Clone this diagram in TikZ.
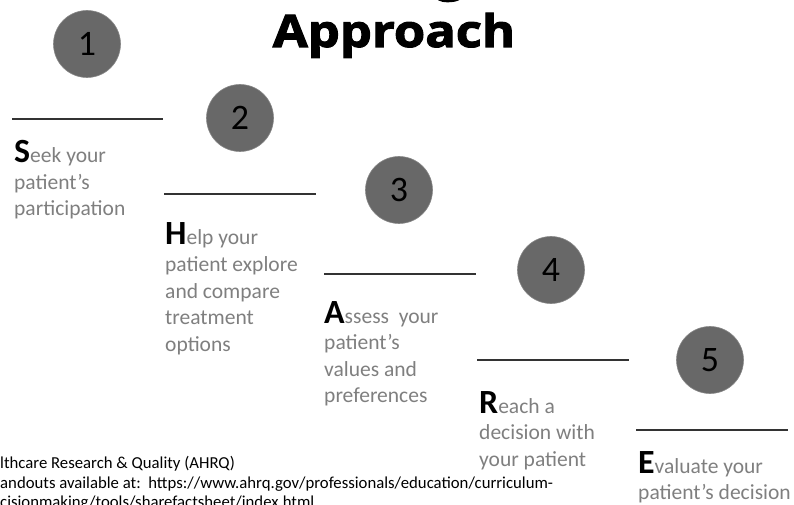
\documentclass[tikz,border=0pt]{standalone}
\usepackage{fontspec}
\setmainfont{Carlito}
\newfontfamily\headfont[FakeBold=2.4,FakeStretch=1.13]{Open Sans}
\usepackage{array}
\definecolor{stepgray}{HTML}{7F7F7F}
\definecolor{dotgray}{HTML}{686868}
\begin{document}
\begin{tikzpicture}[x=1bp,y=-1bp,
  numdot/.style={circle,fill=dotgray,draw=dotgray!80,line width=0.6bp,minimum size=67bp,inner sep=0,
    font=\fontsize{36}{36}\selectfont,text=black},
  rule/.style={draw=black!80,line width=1.1bp},
  steptext/.style={anchor=base west,inner sep=0,text=stepgray,
    font=\fontsize{21.6}{26.6}\selectfont},
  srctext/.style={anchor=base west,inner sep=0,text=black,font=\fontsize{16.8}{19.5}\selectfont},
  headtext/.style={anchor=base,inner sep=0,text=black,font=\headfont\bfseries\fontsize{45}{45}\selectfont}]
\newcommand\initial[1]{{\color{black}\fontsize{34}{34}\selectfont\bfseries #1}}
\newcommand\lines[1]{\begin{tabular}[t]{@{}l@{}}#1\end{tabular}}
\useasboundingbox (0,0) rectangle (794,505);

% heading
\node[headtext] (head) at (394,47) {Approach};
\node[headtext] (headg) at (450,-9) {g};

% numbered discs
\node[numdot] (n1) at (87,44) {1};
\node[numdot] (n2) at (240,118) {2};
\node[numdot] (n3) at (399,190) {3};
\node[numdot] (n4) at (551,270) {4};
\node[numdot] (n5) at (710,360) {5};

% step rules
\coordinate (r1a) at (12,119);  \coordinate (r1b) at (163,119);
\coordinate (r2a) at (164,194); \coordinate (r2b) at (316,194);
\coordinate (r3a) at (324,274); \coordinate (r3b) at (476,274);
\coordinate (r4a) at (477,360); \coordinate (r4b) at (629,360);
\coordinate (r5a) at (636,430); \coordinate (r5b) at (788,430);
\draw[rule] (r1a) -- (r1b);
\draw[rule] (r2a) -- (r2b);
\draw[rule] (r3a) -- (r3b);
\draw[rule] (r4a) -- (r4b);
\draw[rule] (r5a) -- (r5b);

% step descriptions
\node[steptext] (s1) at (14,163) {\lines{\initial{S}eek your\\patient’s\\participation}};
\node[steptext] (s2) at (165,245) {\lines{\initial{H}elp your\\patient explore\\and compare\\treatment\\options}};
\node[steptext] (s3) at (324,323) {\lines{\initial{A}ssess\ \ your\\patient’s\\values and\\preferences}};
\node[steptext] (s4) at (479,413) {\lines{\initial{R}each a\\decision with\\your patient}};
\node[steptext] (s5) at (638,473) {\lines{\initial{E}valuate your\\patient’s decision}};

% source note
\node[srctext] (src1) at (0,468) {\llap{Agency for Hea}lthcare Research \& Quality (AHRQ)};
\node[srctext] (src2) at (0,488) {\llap{H}andouts available at:\ \ https://www.ahrq.gov/professionals/education/curriculum-};
\node[srctext] (src3) at (0,507.5) {\llap{tools/shareddeci}cisionmaking/tools/sharefactsheet/index.html};
\end{tikzpicture}
\end{document}
